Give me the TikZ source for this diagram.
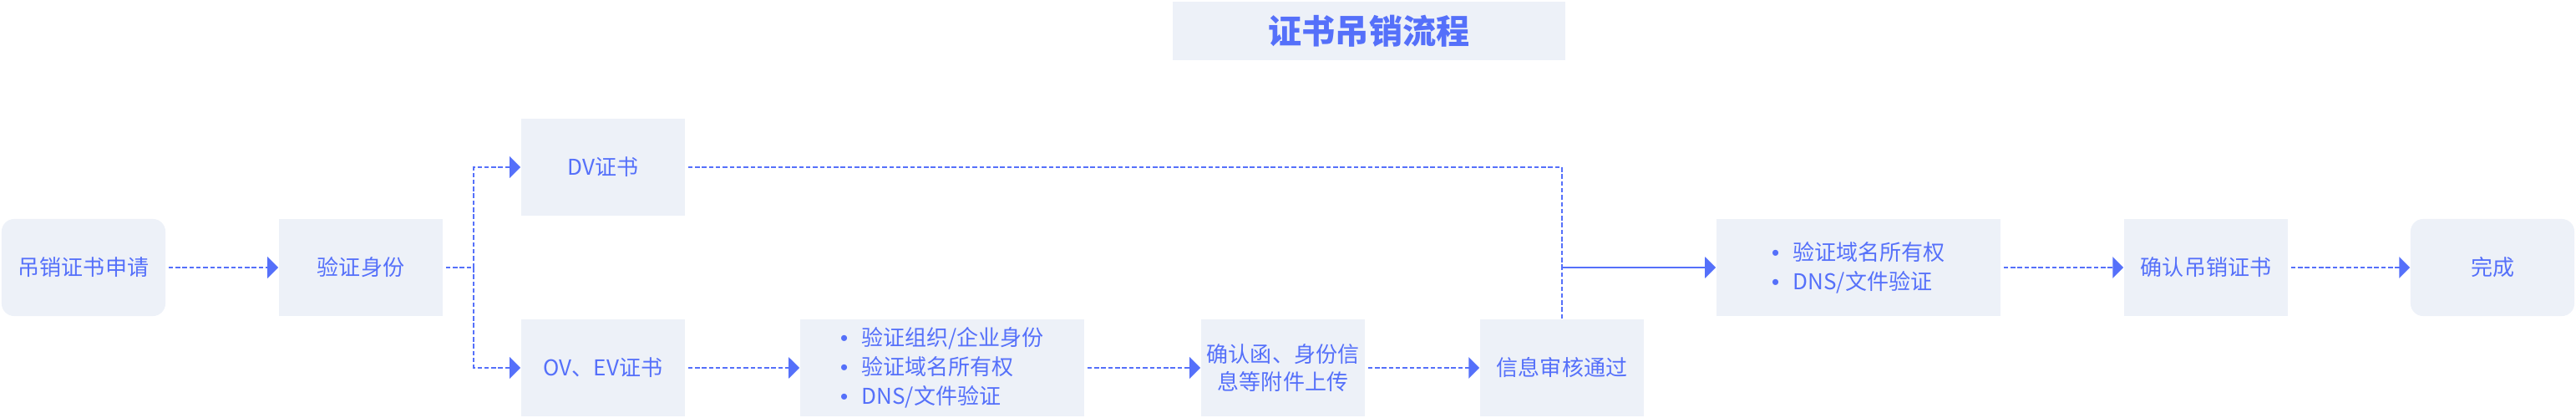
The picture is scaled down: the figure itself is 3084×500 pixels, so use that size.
\documentclass[tikz,border=0pt]{standalone}
\usepackage{fontspec}
\setmainfont{Noto Sans CJK SC}
\newfontfamily\dotfont{Liberation Sans}
\usetikzlibrary{arrows.meta}

\definecolor{flowblue}{HTML}{5570FA}
\definecolor{boxgray}{HTML}{EDF1F8}

\newcommand{\dotitem}[1]{{\dotfont\textbullet}\hspace{0.165cm}#1}

\begin{document}
\begin{tikzpicture}[x=0.01cm,y=-0.01cm,
  box/.style={fill=boxgray,text=flowblue,inner sep=0pt,
    minimum width=1.96cm,minimum height=1.16cm,align=center,
    font=\fontsize{7.4pt}{9.5pt}\selectfont},
  endbox/.style={box,rounded corners=0.15cm},
  listbox/.style={box,minimum width=3.40cm,align=left,
    font=\fontsize{7.4pt}{9.9pt}\selectfont},
  flow/.style={draw=flowblue,line width=0.024cm,
    dash pattern=on 0.055cm off 0.028cm},
  flowarrow/.style={flow,-{Triangle[length=0.13cm,width=0.25cm]}},
  solidarrow/.style={draw=flowblue,line width=0.024cm,
    -{Triangle[length=0.13cm,width=0.25cm]}}]

\useasboundingbox (0,0) rectangle (3084,500);

% title
\node[fill=boxgray,text=flowblue,minimum width=4.70cm,minimum height=0.70cm,
  font=\fontsize{11.4pt}{12pt}\selectfont\bfseries] (title) at (1639,37) {证书吊销流程};

% main row
\node[endbox]  (apply)   at (100,320)  {吊销证书申请};
\node[box]     (verify)  at (432,320)  {验证身份};
\node[box]     (dv)      at (722,200)  {DV证书};
\node[box]     (ovev)    at (722,440)  {OV、EV证书};
\node[listbox] (orgchk)  at (1128,440) {\dotitem{验证组织/企业身份}\\\dotitem{验证域名所有权}\\\dotitem{DNS/文件验证}};
\node[box]     (upload)  at (1536,440) {确认函、身份信\\息等附件上传};
\node[box]     (audit)   at (1870,440) {信息审核通过};
\node[listbox] (domchk)  at (2225,320) {\dotitem{验证域名所有权}\\\dotitem{DNS/文件验证}};
\node[box]     (revoke)  at (2641,320) {确认吊销证书};
\node[endbox]  (done)    at (2984,320) {完成};

\coordinate (split) at (567,320);
\coordinate (join)  at (1870,320);

% connectors
\path[flowarrow,shorten <=0.03cm] (apply) -- (verify);
\path[flow,shorten <=0.03cm] (verify.east) -- (split);
\path[flowarrow] (split) |- (dv.west);
\path[flowarrow] (split) |- (ovev.west);
\path[flowarrow,shorten <=0.03cm] (ovev) -- (orgchk);
\path[flowarrow,shorten <=0.03cm] (orgchk) -- (upload);
\path[flowarrow,shorten <=0.03cm] (upload) -- (audit);
\path[flow,shorten <=0.03cm] (dv.east) -| (join);
\path[flow] (audit.north) -- (join);
\path[solidarrow] (join) -- (domchk.west);
\path[flowarrow,shorten <=0.03cm] (domchk) -- (revoke);
\path[flowarrow,shorten <=0.03cm] (revoke) -- (done);
\end{tikzpicture}
\end{document}
